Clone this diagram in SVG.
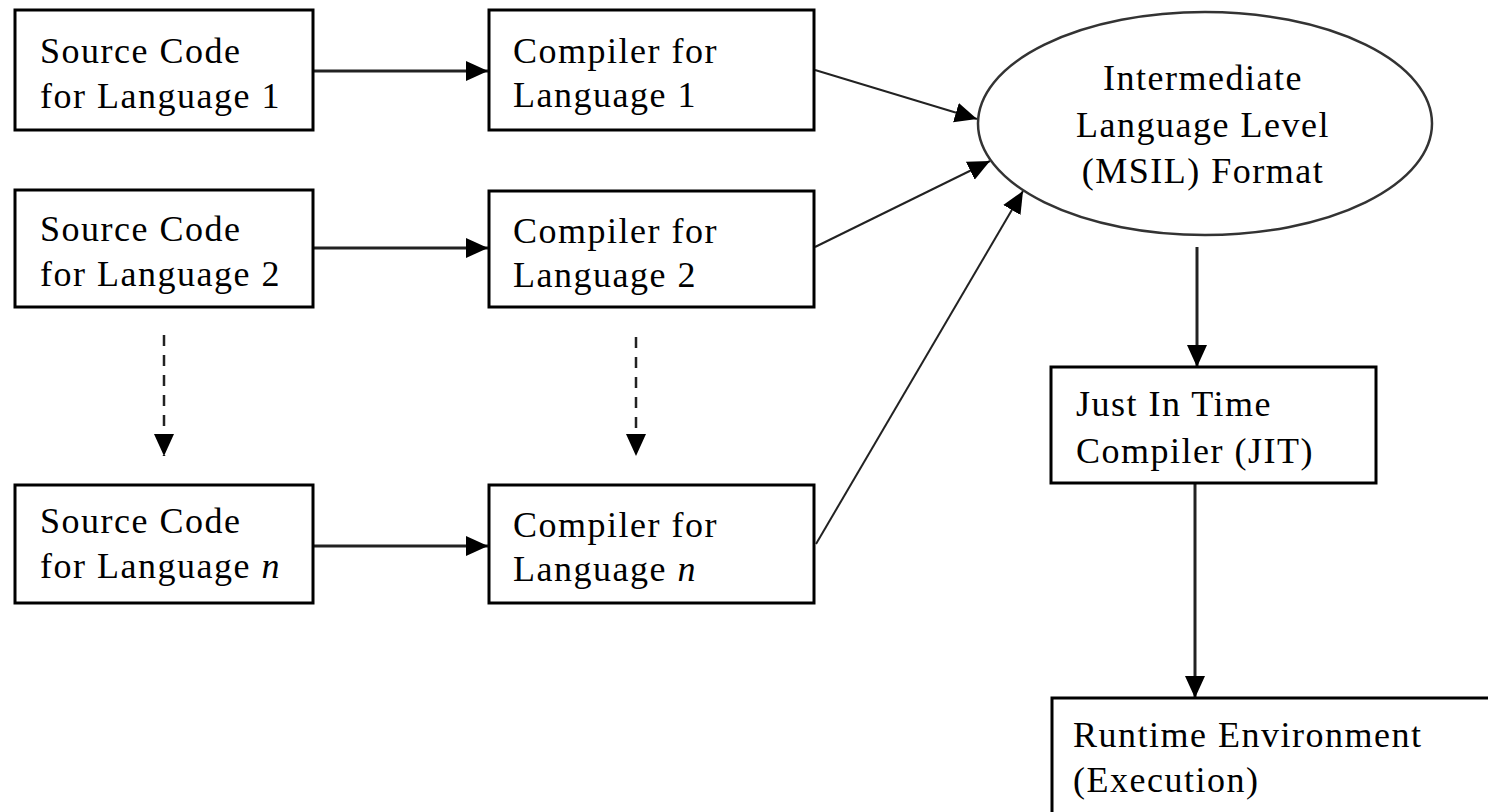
<svg xmlns="http://www.w3.org/2000/svg" width="1488" height="812" viewBox="0 0 1488 812">
<style>
.box{fill:#fff;stroke:#000;stroke-width:3}
.t{font-family:"Liberation Serif","Times New Roman",serif;font-size:36px;letter-spacing:1.5px;fill:#000}
.c{stroke:#222;stroke-width:3;fill:none}
.d{stroke:#222;stroke-width:2;fill:none}
.ds{stroke:#222;stroke-width:2.5;fill:none;stroke-dasharray:11 9}
</style>
<defs>
<marker id="ah" markerUnits="userSpaceOnUse" markerWidth="24" markerHeight="22" refX="22" refY="10" orient="auto">
<path d="M0,0 L22,10 L0,20 Z" fill="#000"/>
</marker>
</defs>
<rect width="1488" height="812" fill="#fff"/>
<g id="connectors">
<line class="c" x1="314" y1="71" x2="488" y2="71" marker-end="url(#ah)"/>
<line class="c" x1="314" y1="248" x2="488" y2="248" marker-end="url(#ah)"/>
<line class="c" x1="314" y1="546" x2="488" y2="546" marker-end="url(#ah)"/>
<line class="d" x1="815" y1="70" x2="977" y2="119" marker-end="url(#ah)"/>
<line class="d" x1="815" y1="247" x2="990" y2="161" marker-end="url(#ah)"/>
<line class="d" x1="816" y1="544" x2="1023" y2="191" marker-end="url(#ah)"/>
<line class="ds" x1="164" y1="335" x2="164" y2="456" marker-end="url(#ah)"/>
<line class="ds" x1="636" y1="337" x2="636" y2="456" marker-end="url(#ah)"/>
<line class="c" x1="1197" y1="247" x2="1197" y2="367" marker-end="url(#ah)"/>
<line class="c" x1="1195" y1="484" x2="1195" y2="698" marker-end="url(#ah)"/>
</g>
<g id="src1"><rect class="box" x="15" y="10" width="298" height="120"/><text class="t" x="40" y="63">Source Code</text><text class="t" x="40" y="108">for Language 1</text></g>
<g id="src2"><rect class="box" x="15" y="190" width="298" height="117"/><text class="t" x="40" y="241">Source Code</text><text class="t" x="40" y="286">for Language 2</text></g>
<g id="srcn"><rect class="box" x="15" y="485" width="298" height="118"/><text class="t" x="40" y="533">Source Code</text><text class="t" x="40" y="578">for Language <tspan font-style="italic">n</tspan></text></g>
<g id="comp1"><rect class="box" x="489" y="10" width="325" height="120"/><text class="t" x="513" y="63">Compiler for</text><text class="t" x="513" y="107">Language 1</text></g>
<g id="comp2"><rect class="box" x="489" y="191" width="325" height="116"/><text class="t" x="513" y="243">Compiler for</text><text class="t" x="513" y="287">Language 2</text></g>
<g id="compn"><rect class="box" x="489" y="485" width="325" height="118"/><text class="t" x="513" y="537">Compiler for</text><text class="t" x="513" y="581">Language <tspan font-style="italic">n</tspan></text></g>
<g id="msil"><ellipse cx="1205" cy="123.5" rx="227" ry="111.5" fill="#fff" stroke="#333" stroke-width="2.5"/>
<text class="t" x="1203" y="90" text-anchor="middle">Intermediate</text>
<text class="t" x="1203" y="137" text-anchor="middle">Language Level</text>
<text class="t" x="1203" y="183" text-anchor="middle">(MSIL) Format</text></g>
<g id="jit"><rect class="box" x="1051" y="367" width="325" height="116"/><text class="t" x="1076" y="416">Just In Time</text><text class="t" x="1076" y="463">Compiler (JIT)</text></g>
<g id="runtime"><rect class="box" x="1052" y="698" width="500" height="200"/><text class="t" x="1073" y="747">Runtime Environment</text><text class="t" x="1073" y="792">(Execution)</text></g>
</svg>
